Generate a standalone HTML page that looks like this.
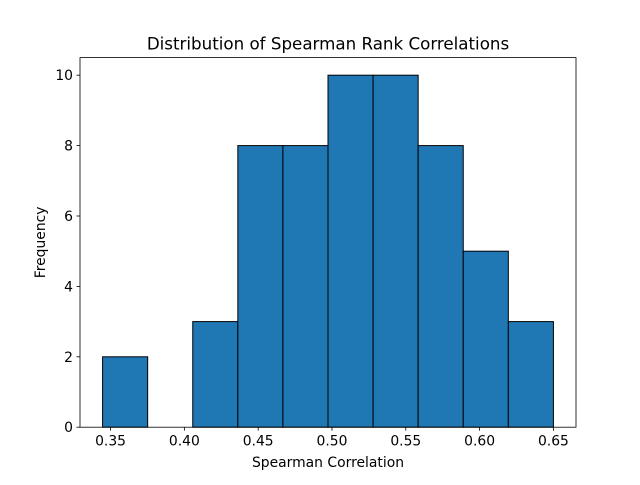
<!DOCTYPE html>
<html><head><meta charset="utf-8"><style>
body{margin:0;background:#fff;}
svg text{font-family:"DejaVu Sans","Liberation Sans",sans-serif;fill:#000;}
</style></head><body>
<svg id="chart" width="640" height="480" xmlns="http://www.w3.org/2000/svg">
<rect width="640" height="480" fill="#fff"/>
<text x="328" y="49.5" font-size="16.7" text-anchor="middle">Distribution of Spearman Rank Correlations</text>
<g id="bars"></g>
<rect x="80" y="57.6" width="496" height="369.6" fill="none" stroke="#000" stroke-width="0.8"/>
<g id="xticks"></g>
<g id="yticks"></g>
<text x="328" y="467" font-size="13.9" text-anchor="middle">Spearman Correlation</text>
<text x="0" y="0" font-size="13.9" text-anchor="middle" transform="translate(45,242.4) rotate(-90)">Frequency</text>
</svg>
<script>
const binStart = 0.3446;
const binWidth = 0.03054;
const counts = [2, 0, 3, 8, 8, 10, 10, 8, 5, 3];
const xTickValues = [0.35, 0.40, 0.45, 0.50, 0.55, 0.60, 0.65];
const xTickLabels = ["0.35", "0.40", "0.45", "0.50", "0.55", "0.60", "0.65"];
const yTickValues = [0, 2, 4, 6, 8, 10];

const NS = "http://www.w3.org/2000/svg";
const L = 80, R = 576, T = 57.6, B = 427.2;
const xMin = 0.3293, xMax = 0.6653, yMax = 10.5;
const xs = v => L + (v - xMin) / (xMax - xMin) * (R - L);
const ys = v => B - v / yMax * (B - T);
function mk(tag, attrs, parent) {
  const e = document.createElementNS(NS, tag);
  for (const k in attrs) e.setAttribute(k, attrs[k]);
  parent.appendChild(e);
  return e;
}
const bars = document.getElementById('bars');
counts.forEach((c, i) => {
  const x0 = xs(binStart + i * binWidth), x1 = xs(binStart + (i + 1) * binWidth);
  const r = mk('rect', {x: x0, y: ys(c), width: x1 - x0, height: ys(0) - ys(c), fill: '#1f77b4', stroke: '#000', 'stroke-width': 1}, bars);
  
  
});
const xg = document.getElementById('xticks');
xTickValues.forEach((v, i) => {
  const x = xs(v);
  const l = mk('line', {x1: x, x2: x, y1: B, y2: B + 3.5, stroke: '#000', 'stroke-width': 0.8}, xg);
  
  
  const t = mk('text', {x: x, y: B + 18.5, 'font-size': 13.9, 'text-anchor': 'middle'}, xg);
  t.textContent = xTickLabels[i];
  
  
});
const yg = document.getElementById('yticks');
yTickValues.forEach(v => {
  const y = ys(v);
  const l = mk('line', {x1: L - 3.5, x2: L, y1: y, y2: y, stroke: '#000', 'stroke-width': 0.8}, yg);
  
  
  const t = mk('text', {x: L - 7, y: y + 5, 'font-size': 13.9, 'text-anchor': 'end'}, yg);
  t.textContent = String(v);
  
  
});
</script>
</body></html>
